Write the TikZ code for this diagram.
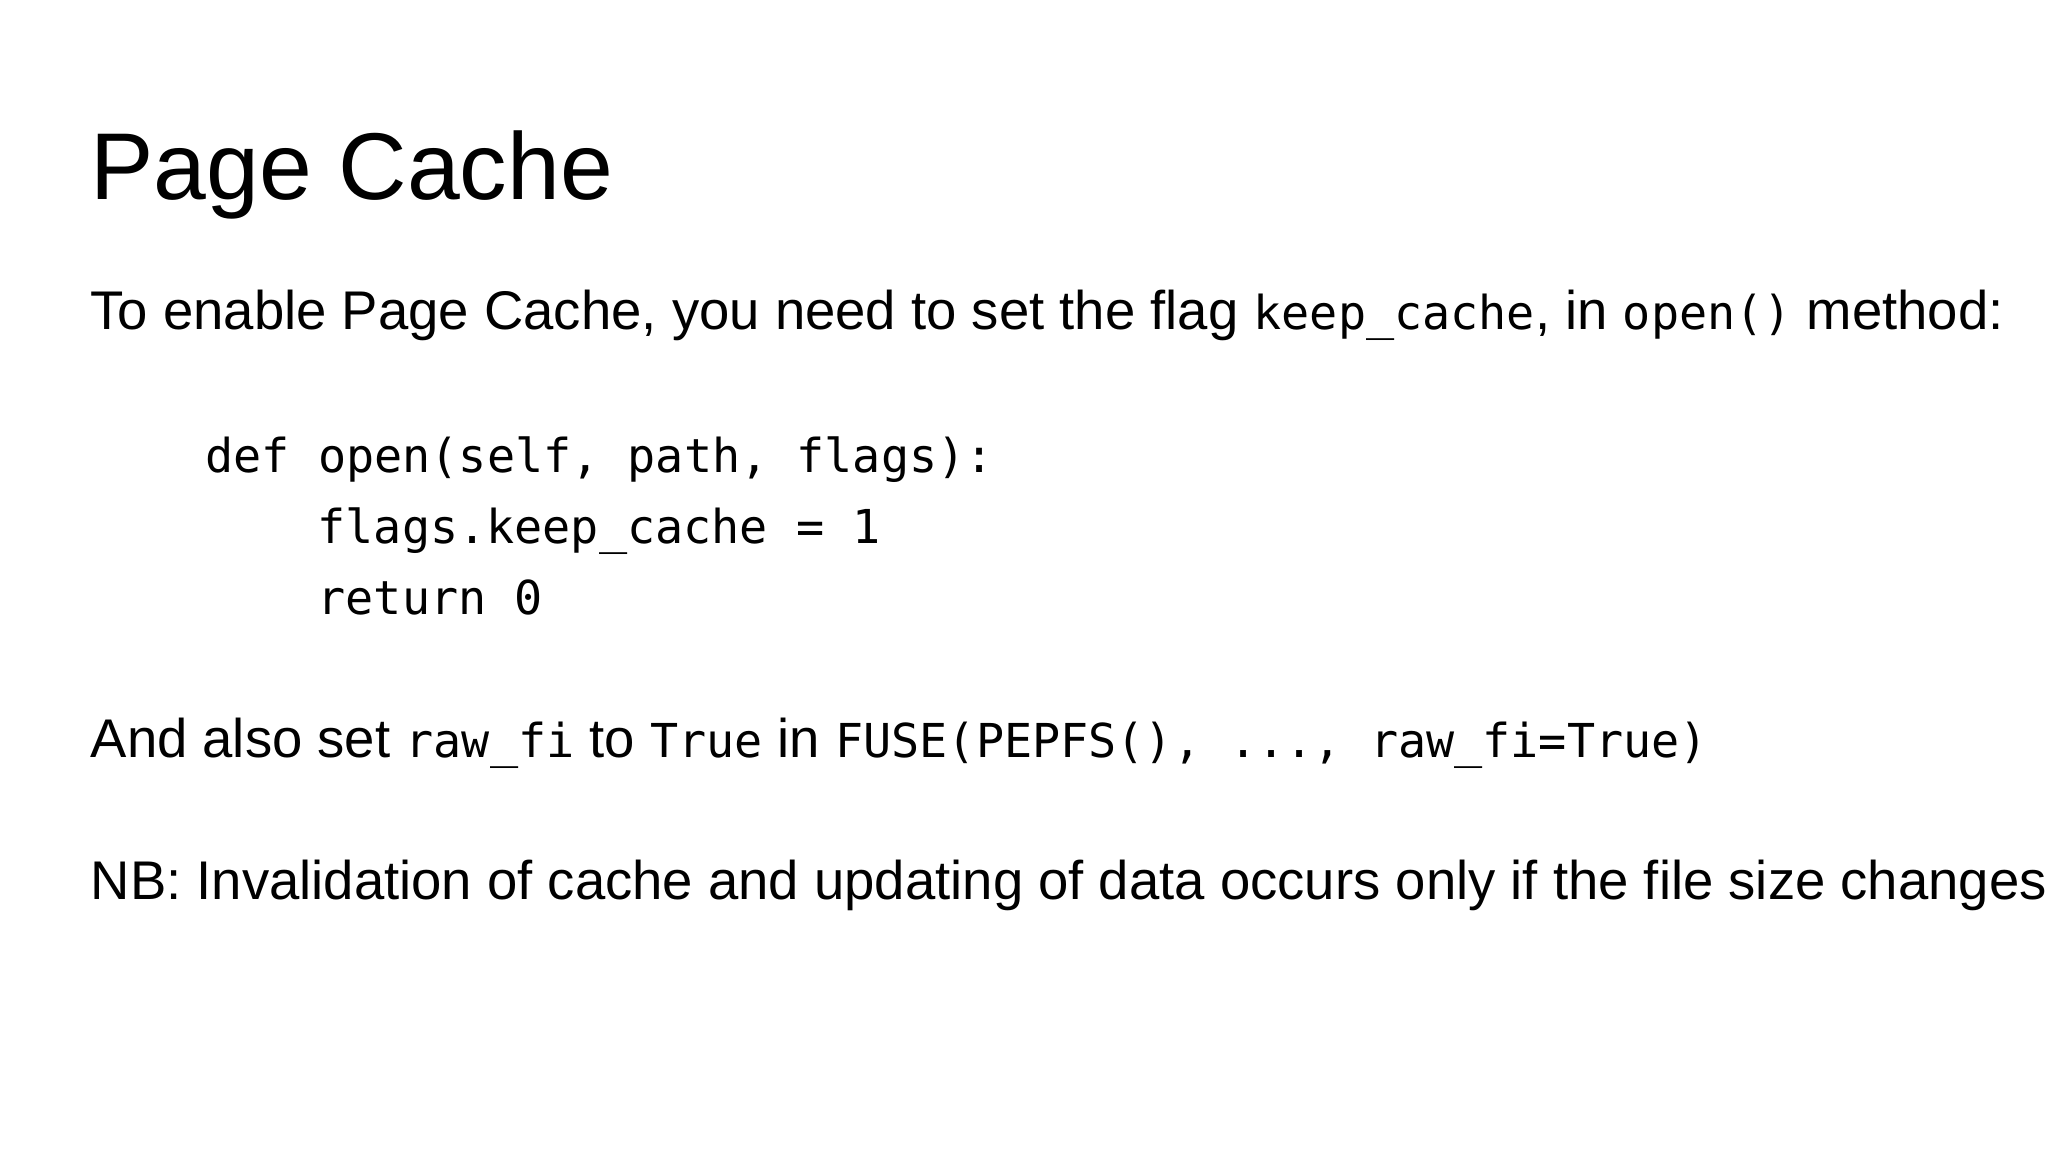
\documentclass[tikz,border=0pt]{standalone}
\usepackage{fontspec}
\setmainfont{Liberation Sans}
\setmonofont{DejaVu Sans Mono}
\tikzset{txt/.style={anchor=base west,inner sep=0pt,font=\fontsize{15.5}{18}\selectfont},
codef/.style={anchor=base west,inner sep=0pt,font=\fontsize{13.3}{16}\selectfont\ttfamily}}
\newcommand{\mc}[1]{{\fontsize{13.3}{16}\selectfont\ttfamily #1}}
\begin{document}
\begin{tikzpicture}
\useasboundingbox (0,0) rectangle (20.48,11.52);
\node[anchor=base west,inner sep=0pt,font=\fontsize{27}{32}\selectfont] (title) at (0.90,9.52) {Page Cache};
\node[txt] (l1) at (0.90,8.22) {To enable Page Cache, you need to set the flag \mc{keep\_cache}, in \mc{open()} method:};
\node[codef] (c1) at (2.05,6.79) {def open(self, path, flags):};
\node[codef] (c2) at (3.17,6.08) {flags.keep\_cache = 1};
\node[codef] (c3) at (3.17,5.37) {return 0};
\node[txt] (l2) at (0.90,3.94) {And also set \mc{raw\_fi} to \mc{True} in \mc{FUSE(PEPFS(), ..., raw\_fi=True)}};
\node[txt] (l3) at (0.90,2.52) {NB: Invalidation of cache and updating of data occurs only if the file size changes};
\end{tikzpicture}
\end{document}
